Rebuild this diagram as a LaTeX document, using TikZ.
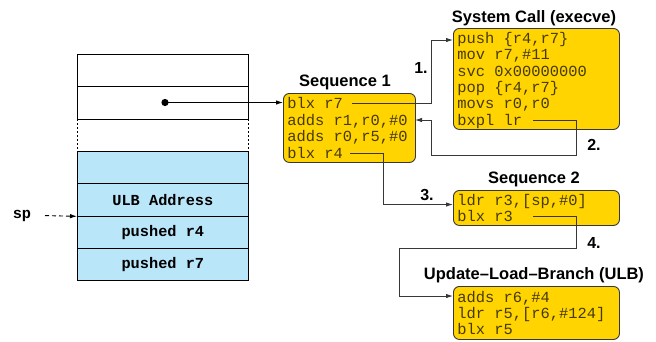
\documentclass[tikz,border=0pt]{standalone}
\usepackage{fontspec}
\setmainfont{Liberation Sans}
\setmonofont{Liberation Mono}
\usetikzlibrary{arrows.meta,calc}
\definecolor{gold}{RGB}{255,212,0}
\definecolor{stackblue}{RGB}{186,230,250}
\definecolor{edgegray}{RGB}{55,55,55}
\definecolor{codecol}{RGB}{70,58,10}
\begin{document}
\begin{tikzpicture}[x=1pt,y=-1pt,
  box/.style={draw=edgegray, fill=gold, rounded corners=6pt, line width=0.9pt, anchor=north west,
    align=flush left, inner xsep=4pt, inner ysep=0pt, text=codecol,
    font=\fontsize{15.4}{16.4}\selectfont\ttfamily},
  title/.style={font=\fontsize{16.5}{18}\selectfont\bfseries, inner sep=0pt},
  lbl/.style={font=\fontsize{16}{18}\selectfont\bfseries, inner sep=0pt},
  cell/.style={draw=black, line width=0.7pt, minimum width=171pt, minimum height=32.3pt,
    inner sep=0pt, anchor=north west, font=\fontsize{15.3}{17}\selectfont\ttfamily\bfseries},
  bluecell/.style={cell, fill=stackblue},
  conn/.style={draw=edgegray, line width=0.9pt, -{Latex[length=7pt,width=4.5pt]}}
]
\useasboundingbox (0,0) rectangle (656,341);

% stack
\node[cell] (c1) at (77,54) {};
\node[cell] (c2) at (77,86.3) {};
\draw[line width=0.7pt, dash pattern=on 2pt off 2pt] (c2.south west) -- ++(0,32.4) (c2.south east) -- ++(0,32.4);
\node[bluecell] (b1) at (77,151) {};
\node[bluecell] (b2) at (77,183.3) {ULB Address};
\node[bluecell] (b3) at (77,215.6) {pushed r4};
\node[bluecell] (b4) at (77,247.9) {pushed r7};
\node[font=\fontsize{15.3}{17}\selectfont\ttfamily\bfseries, inner sep=0pt] (sp) at (22,215.6) {sp};
\coordinate (spstart) at (45,215.6);
\draw[conn, dashed, dash pattern=on 4pt off 3pt, draw=black] (spstart) -- (b2.south west);

\fill (165,102.5) circle (3.6pt) coordinate (dot);

% boxes
\node[box, text width=124pt, minimum height=69pt] (seq1) at (283,93)
  {blx r7\\adds r1,r0,\#0\\adds r0,r5,\#0\\blx r4};
\node[box, text width=158pt, minimum height=101pt] (sys) at (453,28)
  {\rule{0pt}{14pt}push \{r4,r7\}\\mov r7,\#11\\svc 0x00000000\\pop \{r4,r7\}\\movs r0,r0\\bxpl lr};
\node[box, text width=158pt, minimum height=35pt] (seq2) at (453,190)
  {ldr r3,[sp,\#0]\\blx r3};
\node[box, text width=158pt, minimum height=53pt] (ulb) at (453,286)
  {adds r6,\#4\\ldr r5,[r6,\#124]\\blx r5};

% titles
\node[title] (t1) at (345,82) {Sequence 1};
\node[title] (t2) at (534,18) {System Call (execve)};
\node[title] (t3) at (534,179) {Sequence 2};
\node[title] (t4) at (534,275) {Update{\textendash}Load{\textendash}Branch (ULB)};

% labels
\node[lbl] (l1) at (421,68) {1.};
\node[lbl] (l2) at (594,145) {2.};
\node[lbl] (l3) at (427,195) {3.};
\node[lbl] (l4) at (594,243) {4.};

% connectors
\draw[conn, draw=black] (dot) -- (dot -| seq1.west);
\coordinate (o1) at (352,103);
\coordinate (i1) at (453,40);
\draw[conn] (o1) -- (431,103) -- (431,40) -- (i1);
\coordinate (o2) at (533,120);
\coordinate (i2) at (415,120);
\draw[conn] (o2) -- (576,120) -- (576,155) -- (431,155) -- (431,120) -- (i2);
\coordinate (o3) at (350,153);
\coordinate (i3) at (453,204.5);
\draw[conn] (o3) -- (383,153) -- (383,204.5) -- (i3);
\coordinate (o4) at (533,216);
\coordinate (i4) at (453,296);
\draw[conn] (o4) -- (576,216) -- (576,248) -- (399,248) -- (399,296) -- (i4);
\end{tikzpicture}
\end{document}
